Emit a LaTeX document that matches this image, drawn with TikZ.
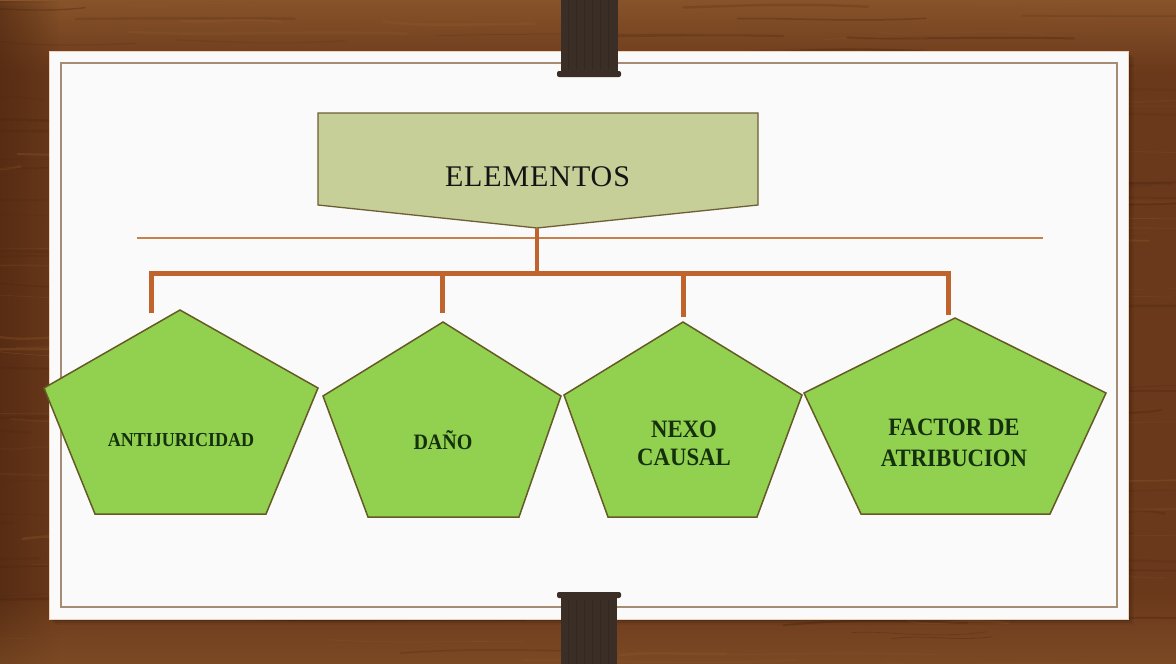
\documentclass[tikz,border=0pt]{standalone}
\usepackage{fontspec}
\usetikzlibrary{fadings}
\setmainfont{Liberation Serif}
\newfontfamily\pfont[FakeStretch=0.91]{Liberation Serif}
\newfontfamily\efont[LetterSpace=3]{Liberation Serif}
\definecolor{wood}{HTML}{6A391B}
\definecolor{woodd}{HTML}{4A240E}
\definecolor{woodl}{HTML}{8E5A2E}
\definecolor{cardc}{HTML}{FAFAFA}
\definecolor{cardedge}{HTML}{F0D2B8}
\definecolor{innerc}{HTML}{A58C74}
\definecolor{thinc}{HTML}{C7804C}
\definecolor{barc}{HTML}{C0642E}
\definecolor{elemfill}{HTML}{C6CF97}
\definecolor{elemline}{HTML}{6E5E36}
\definecolor{pentfill}{HTML}{92D050}
\definecolor{pentline}{HTML}{655A26}
\definecolor{ptextc}{HTML}{15300D}
\definecolor{clipc}{HTML}{3A2E26}
\tikzfading[name=fadeR, left color=transparent!0, right color=transparent!100]
\tikzfading[name=fadeD, top color=transparent!0, bottom color=transparent!100]
\tikzfading[name=fadeU, top color=transparent!100, bottom color=transparent!0]
\begin{document}
\begin{tikzpicture}[x=1pt,y=-1pt,
  pent/.style={fill=pentfill, draw=pentline, line width=1.5pt, line join=miter},
  ptext/.style={text=ptextc, font=\pfont\bfseries, inner sep=0pt, anchor=base},
  conn/.style={draw=barc, line width=5pt, line join=miter},
  clipbody/.style={fill=clipc}]
\useasboundingbox (0,0) rectangle (1176,664);
% wood background
\fill[wood] (0,0) rectangle (1176,664);
\fill[woodl, opacity=0.8, path fading=fadeD] (0,0) rectangle (1176,75);
\fill[woodd, opacity=0.6, path fading=fadeR] (0,0) rectangle (60,664);
\fill[woodl, opacity=0.5, path fading=fadeU] (0,590) rectangle (1176,664);
\pgfmathsetseed{7}
\foreach \i in {1,...,320}{
  \pgfmathsetmacro\yy{rnd*664}
  \pgfmathsetmacro\aa{(rnd-0.5)*14}
  \pgfmathsetmacro\bb{(rnd-0.5)*14}
  \pgfmathsetmacro\ww{0.5+rnd*2.2}
  \pgfmathsetmacro\op{0.1+rnd*0.25}
  \pgfmathsetmacro\xs{rnd*1300-200}
  \pgfmathsetmacro\ll{60+rnd*260}
  \pgfmathsetmacro\cc{rnd}
  \ifdim\cc pt<0.6pt
    \draw[line width=\ww pt, woodd, opacity=\op, line cap=round] (\xs,\yy) .. controls (\xs+\ll*0.3,\yy+\aa) and (\xs+\ll*0.6,\yy+\bb) .. (\xs+\ll,\yy+\aa*0.4);
  \else
    \draw[line width=\ww pt, woodl, opacity=\op, line cap=round] (\xs,\yy) .. controls (\xs+\ll*0.3,\yy+\aa) and (\xs+\ll*0.6,\yy+\bb) .. (\xs+\ll,\yy+\aa*0.4);
  \fi
}
% card shadow
\foreach \o/\p in {6/0.06,4/0.08,2/0.12}{
  \fill[black, opacity=\p] (49+\o,51+\o) rectangle (1128+\o,619+\o);
}
% card
\fill[cardc] (49,51) rectangle (1128,619);
\draw[cardedge, line width=0.8pt] (49,51) rectangle (1128,619);
\draw[innerc, line width=1.6pt] (61,63) rectangle (1117,607);
% thin rule
\coordinate (ruleL) at (137,238);
\coordinate (ruleR) at (1043,238);
\draw[thinc, line width=1.5pt] (ruleL) -- (ruleR);
% clips
\fill[clipbody] (561,0) rectangle (618,75);
\fill[clipbody, rounded corners=2pt] (557,71) rectangle (621,77);
\fill[clipbody] (561,596) rectangle (617,664);
\fill[clipbody, rounded corners=2pt] (557,592) rectangle (621,598);
\foreach \xx in {568,576,584,592,600,608}{
  \draw[black, opacity=0.12, line width=1pt] (\xx,0) -- (\xx,70);
  \draw[black, opacity=0.12, line width=1pt] (\xx,599) -- (\xx,664);
}
% ELEMENTOS box
\draw[fill=elemfill, draw=elemline, line width=1.3pt, line join=miter]
  (318,113) -- (758,113) -- (758,205) -- (537,228) -- (318,205) -- cycle;
\node[text=black!92, font=\efont, inner sep=0pt, anchor=base] (elem) at (537.5,186) {\fontsize{30}{36}\selectfont ELEMENTOS};
\coordinate (etip) at (537,228);
% pentagons
\draw[pent] (180,310) -- (318,388) -- (266,514) -- (95,514) -- (44,388) -- cycle;
\draw[pent] (443,322) -- (561,396) -- (519,517) -- (368,517) -- (323,396) -- cycle;
\draw[pent] (683,322) -- (802,395) -- (757,517) -- (608,517) -- (564,395) -- cycle;
\draw[pent] (955,318) -- (1106,393) -- (1050,514) -- (861,514) -- (804,393) -- cycle;
\node[ptext] (t1) at (181,446) {\fontsize{19.8}{24}\selectfont ANTIJURICIDAD};
\node[ptext] (t2) at (443,449) {\fontsize{22}{26}\selectfont DAÑO};
\node[ptext] (t3a) at (684,437) {\fontsize{25}{30}\selectfont NEXO};
\node[ptext] (t3b) at (684,465) {\fontsize{25}{30}\selectfont CAUSAL};
\node[ptext] (t4a) at (954,435) {\fontsize{25}{30}\selectfont FACTOR DE};
\node[ptext] (t4b) at (954,466) {\fontsize{25}{30}\selectfont ATRIBUCION};
% connectors
\coordinate (j) at (537,273.5);
\coordinate (bL) at (151.5,273.5);
\coordinate (bR) at (948.5,273.5);
\coordinate (e1) at (151.5,313);
\coordinate (e2) at (442.5,313);
\coordinate (e3) at (683,317);
\coordinate (e4) at (948.5,315);
\draw[conn, line width=4.5pt] (etip) -- (j);
\draw[conn] (e1) -- (bL) -- (bR) -- (e4);
\draw[conn] (e2) -- (e2 |- j);
\draw[conn] (e3) -- (e3 |- j);
\end{tikzpicture}
\end{document}
